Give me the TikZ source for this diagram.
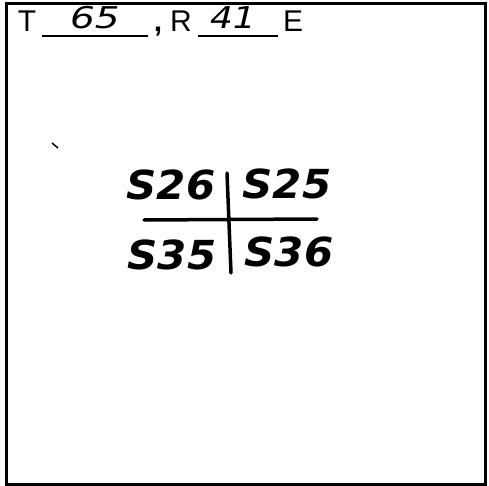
\documentclass[tikz,border=0pt]{standalone}
\usepackage{fontspec}
\setmainfont{Liberation Sans}
\newfontfamily\hand{DejaVu Sans}
\tikzset{
  printed/.style={inner sep=0pt, anchor=base, font=\fontsize{30}{30}\selectfont},
  handtxt/.style={inner sep=0pt, anchor=base, font=\hand\fontsize{40}{40}\selectfont\itshape},
  handsmall/.style={inner sep=0pt, anchor=base, font=\hand\fontsize{30}{30}\selectfont\itshape},
  rule/.style={line width=2pt},
  crossline/.style={line width=3.5pt, line cap=round},
  frame/.style={line width=3pt}
}
\begin{document}
\begin{tikzpicture}[x=1pt,y=-1pt]
\useasboundingbox (0,0) rectangle (489,486);
\draw[frame] (6.5,3.5) rectangle (485.5,484);
% header
\node[printed] (T) at (27,32) {T};
\coordinate (u1a) at (42,36);
\coordinate (u1b) at (148,36);
\draw[rule] (u1a) -- (u1b);
\node[handsmall, xscale=1.3] (n65) at (95,29) {65};
\node[printed] (comma) at (158,32) {\textbf{,}};
\node[printed] (R) at (181,32) {R};
\coordinate (u2a) at (198,36);
\coordinate (u2b) at (278,36);
\draw[rule] (u2a) -- (u2b);
\node[handsmall, xscale=1.2] (n41) at (233,29) {41};
\node[printed] (E) at (293,32) {E};
% small mark
\coordinate (m1) at (52,143);
\coordinate (m2) at (58,148);
\draw[line width=1.5pt] (m1) -- (m2);
% cross
\coordinate (h1) at (144,220);
\coordinate (h2) at (317,219);
\coordinate (v1) at (227,173);
\coordinate (v2) at (231,273);
\draw[crossline] (h1) -- (h2);
\draw[crossline] (v1) -- (v2);
\node[handtxt, xscale=1.05] (s26) at (171,200) {\bfseries S26};
\node[handtxt, xscale=1.05] (s25) at (287,199) {\bfseries S25};
\node[handtxt, xscale=1.05] (s35) at (172,269) {\bfseries S35};
\node[handtxt, xscale=1.05] (s36) at (289,266) {\bfseries S36};
\end{tikzpicture}
\end{document}
